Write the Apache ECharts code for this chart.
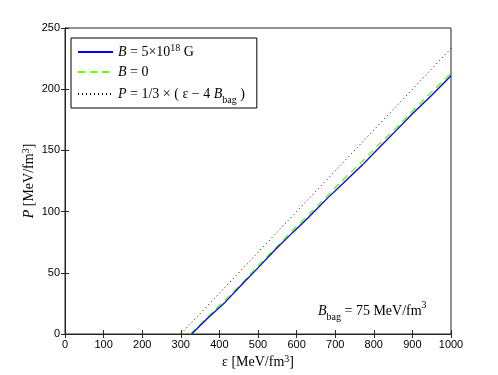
<!DOCTYPE html>
<html>
<head>
<meta charset="utf-8">
<script src="https://cdn.jsdelivr.net/npm/echarts@6/dist/echarts.min.js"></script>
<style>
  html, body { margin: 0; padding: 0; background: #fff; }
  #chart { width: 498px; height: 375px; }
</style>
</head>
<body>
<div id="chart"></div>
<script>
// energy density eps [MeV/fm^3] vs pressure P [MeV/fm^3]
var epsMag = [328, 370, 415, 460, 500, 545, 590, 630, 680, 720, 770, 810, 860, 900, 950, 1000];
var presMag = [0, 13, 26, 41, 54, 69, 83, 95, 111, 123, 138, 151, 167, 180, 195, 211];

var epsZero = [325, 370, 415, 460, 500, 545, 590, 630, 680, 720, 770, 810, 860, 900, 950, 1000];
var presZero = [0, 14, 28, 42, 56, 70, 85, 97, 113, 126, 141, 154, 169, 182, 198, 213];

var epsBag = [300, 1000];
var presBag = [0, 233.3];

var xTicks = [0, 100, 200, 300, 400, 500, 600, 700, 800, 900, 1000];
var yTicks = [0, 50, 100, 150, 200, 250];

function pairs(xs, ys) {
    return xs.map(function (x, i) { return [x, ys[i]]; });
}

var serif = 'Liberation Serif, DejaVu Serif, serif';
var sans = 'Liberation Sans, Arial, sans-serif';

var richText = {
    i: { fontStyle: 'italic', fontFamily: serif, fontSize: 14, color: '#000' },
    n: { fontFamily: serif, fontSize: 14, color: '#000' },
    sup: { fontFamily: serif, fontSize: 10, color: '#000', verticalAlign: 'top', lineHeight: 16 },
    sub: { fontFamily: serif, fontSize: 10, color: '#000', verticalAlign: 'bottom', lineHeight: 22 }
};

var legendNames = {
    mag: '{i|B}{n| = 5×10}{sup|18}{n| G}',
    zero: '{i|B}{n| = 0}',
    bag: '{i|P}{n| = 1/3 × ( ε − 4 }{i|B}{sub|bag}{n| )}'
};

var chart = echarts.init(document.getElementById('chart'));
chart.setOption({
    animation: false,
    backgroundColor: '#fff',
    grid: {
        left: 65, right: 47, top: 28, bottom: 41,
        show: true, borderColor: '#262626', borderWidth: 1
    },
    legend: {
        orient: 'vertical',
        left: 71, top: 38,
        data: ['mag', 'zero', 'bag'],
        itemWidth: 35, itemHeight: 12, itemGap: 2,
        padding: [5, 12, 3, 6],
        borderColor: '#000', borderWidth: 1,
        backgroundColor: '#fff',
        itemStyle: { opacity: 0, borderWidth: 0 },
        formatter: function (name) { return legendNames[name]; },
        textStyle: { lineHeight: 18, rich: richText }
    },
    xAxis: [{
        type: 'value', min: 0, max: 1000, interval: 100,
        name: 'ε [MeV/fm{sup|3}]', nameLocation: 'middle', nameGap: 20, nameMoveOverlap: false,
        nameTextStyle: { fontFamily: serif, fontSize: 14, color: '#000', rich: richText },
        axisLine: { show: true, lineStyle: { color: '#262626' } },
        axisTick: { show: true, inside: true, length: 4, lineStyle: { color: '#262626' } },
        axisLabel: { fontFamily: sans, fontSize: 11, color: '#000', margin: 5,
            formatter: function (v) { return xTicks.indexOf(v) >= 0 ? String(v) : ''; } },
        splitLine: { show: false }
    }, {
        type: 'value', min: 0, max: 1000, interval: 100, position: 'top',
        axisLine: { show: true, lineStyle: { color: '#262626' } },
        axisTick: { show: true, inside: true, length: 4, lineStyle: { color: '#262626' } },
        axisLabel: { show: false },
        splitLine: { show: false }
    }],
    yAxis: [{
        type: 'value', min: 0, max: 250, interval: 50,
        name: '{i|P}{n| [MeV/fm}{sup|3}{n|]}', nameLocation: 'middle', nameGap: 28, nameMoveOverlap: false,
        nameTextStyle: { fontFamily: serif, fontSize: 14, color: '#000', rich: richText },
        axisLine: { show: true, lineStyle: { color: '#262626' } },
        axisTick: { show: true, inside: true, length: 4, lineStyle: { color: '#262626' } },
        axisLabel: { fontFamily: sans, fontSize: 11, color: '#000', margin: 5,
            formatter: function (v) { return yTicks.indexOf(v) >= 0 ? String(v) : ''; } },
        splitLine: { show: false }
    }, {
        type: 'value', min: 0, max: 250, interval: 50, position: 'right',
        axisLine: { show: true, lineStyle: { color: '#262626' } },
        axisTick: { show: true, inside: true, length: 4, lineStyle: { color: '#262626' } },
        axisLabel: { show: false },
        splitLine: { show: false }
    }],
    series: [{
        name: 'mag', type: 'line', data: pairs(epsMag, presMag),
        showSymbol: false, symbol: 'none', z: 4,
        lineStyle: { color: '#0000ff', width: 1.3, type: 'solid' },
        itemStyle: { color: '#0000ff' }
    }, {
        name: 'zero', type: 'line', data: pairs(epsZero, presZero),
        showSymbol: false, symbol: 'none', z: 3,
        lineStyle: { color: '#66ff00', width: 1.3, type: [7, 5] },
        itemStyle: { color: '#66ff00' }
    }, {
        name: 'bag', type: 'line', data: pairs(epsBag, presBag),
        showSymbol: false, symbol: 'none', z: 2,
        lineStyle: { color: '#000', width: 1, type: [1, 3] },
        itemStyle: { color: '#000' }
    }],
    graphic: [{
        type: 'text', left: 318, top: 300, z: 10,
        style: {
            text: '{i|B}{sub|bag}{n| = 75 MeV/fm}{sup|3}',
            rich: richText
        }
    }]
});
</script>
</body>
</html>
